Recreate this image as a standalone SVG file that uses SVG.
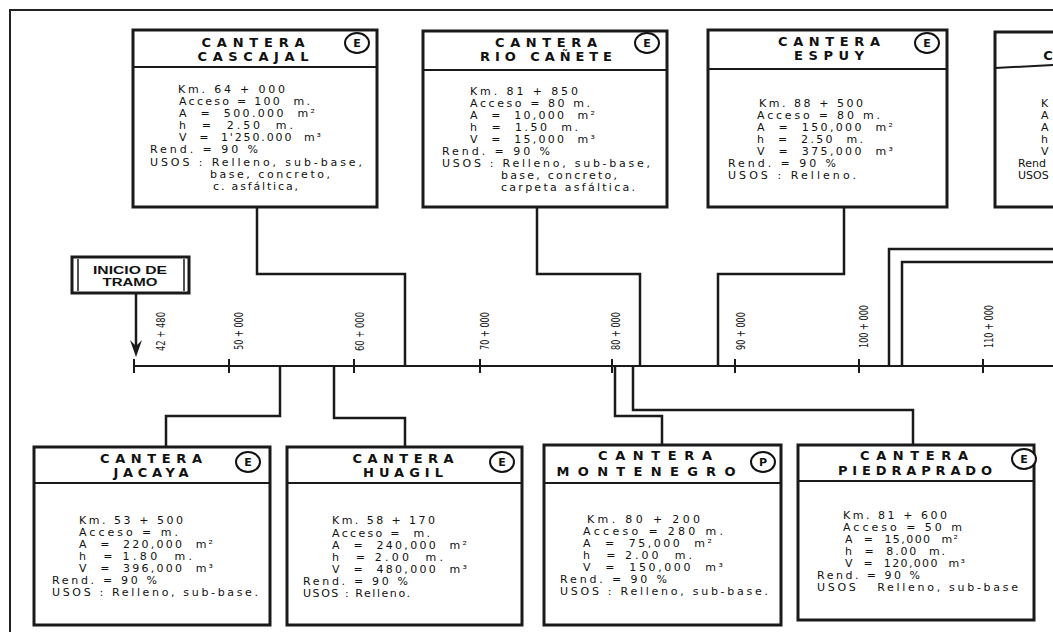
<svg xmlns="http://www.w3.org/2000/svg" width="1053" height="637" viewBox="0 0 1053 637">
<style>
.frame{fill:none;stroke:#222;stroke-width:2}
.box{fill:#fff;stroke:#1a1a1a;stroke-width:3}
.dv{stroke:#1a1a1a;stroke-width:2;fill:none}
.hd{font-family:"DejaVu Sans","Liberation Sans",sans-serif;font-weight:bold;font-size:13px;text-anchor:middle;fill:#111}
.bd{font-family:"DejaVu Sans","Liberation Sans",sans-serif;font-size:11px;fill:#111;white-space:pre}
.ci{fill:#fff;stroke:#111;stroke-width:2}
.cl{font-family:"DejaVu Sans","Liberation Sans",sans-serif;font-weight:bold;font-size:11px;text-anchor:middle;fill:#111}
.conn{fill:none;stroke:#1a1a1a;stroke-width:2.5}
.axis{fill:none;stroke:#1a1a1a;stroke-width:2}
.tick{stroke:#1a1a1a;stroke-width:2}
.tk{font-family:"Liberation Sans Narrow","DejaVu Sans Condensed",sans-serif;font-size:13px;fill:#222}
.ini{font-family:"Liberation Sans",Arial,sans-serif;font-weight:bold;font-size:10.5px;text-anchor:middle;fill:#111}
</style>

<path class="frame" d="M1053,10 H10 V632"/>

<g id="connectors">
  <path class="axis" d="M134,366 H1053"/>
  <g>
    <line class="tick" x1="134" y1="359" x2="134" y2="373"/>
    <line class="tick" x1="229" y1="359" x2="229" y2="373"/>
    <line class="tick" x1="354" y1="359" x2="354" y2="373"/>
    <line class="tick" x1="480" y1="359" x2="480" y2="373"/>
    <line class="tick" x1="612" y1="359" x2="612" y2="373"/>
    <line class="tick" x1="735" y1="359" x2="735" y2="373"/>
    <line class="tick" x1="859" y1="359" x2="859" y2="373"/>
    <line class="tick" x1="983" y1="359" x2="983" y2="373"/>
  </g>
  <path class="conn" d="M257,207 V274 H405 V366"/>
  <path class="conn" d="M537,207 V274 H640 V366"/>
  <path class="conn" d="M844,207 V274 H718 V366"/>
  <path class="conn" d="M1053,249 H889 V366"/>
  <path class="conn" d="M1053,262 H902 V366"/>
  <path class="conn" d="M280,366 V416 H166 V447"/>
  <path class="conn" d="M334,366 V418 H405 V447"/>
  <path class="conn" d="M615,366 V416 H662 V445"/>
  <path class="conn" d="M633,366 V410 H913 V445"/>
  <line class="conn" x1="136" y1="293" x2="136" y2="348"/>
  <path d="M136,357 L130,340 L136,346 L142,340 Z" fill="#1a1a1a"/>
</g>

<g id="km-labels">
  <text class="tk" transform="translate(165,351) rotate(-90)" textLength="39" lengthAdjust="spacingAndGlyphs">42 + 480</text>
  <text class="tk" transform="translate(243,350) rotate(-90)" textLength="38" lengthAdjust="spacingAndGlyphs">50 + 000</text>
  <text class="tk" transform="translate(364,351) rotate(-90)" textLength="39" lengthAdjust="spacingAndGlyphs">60 + 000</text>
  <text class="tk" transform="translate(489,350) rotate(-90)" textLength="38" lengthAdjust="spacingAndGlyphs">70 + 000</text>
  <text class="tk" transform="translate(620,350) rotate(-90)" textLength="38" lengthAdjust="spacingAndGlyphs">80 + 000</text>
  <text class="tk" transform="translate(745,350) rotate(-90)" textLength="38" lengthAdjust="spacingAndGlyphs">90 + 000</text>
  <text class="tk" transform="translate(868,348) rotate(-90)" textLength="43" lengthAdjust="spacingAndGlyphs">100 + 000</text>
  <text class="tk" transform="translate(993,348) rotate(-90)" textLength="43" lengthAdjust="spacingAndGlyphs">110 + 000</text>
</g>

<g id="inicio">
  <rect x="72" y="257" width="117" height="36" fill="#fff" stroke="#1a1a1a" stroke-width="3"/>
  <line x1="78" y1="259" x2="78" y2="291" stroke="#1a1a1a" stroke-width="1.5"/>
  <line x1="184" y1="259" x2="184" y2="291" stroke="#1a1a1a" stroke-width="1.5"/>
  <text class="ini" x="130" y="274" textLength="74" lengthAdjust="spacingAndGlyphs">INICIO DE</text>
  <text class="ini" x="130" y="286" textLength="55" lengthAdjust="spacingAndGlyphs">TRAMO</text>
</g>

<g id="cascajal">
  <rect class="box" x="133" y="30" width="244" height="177"/>
  <line class="dv" x1="133" y1="67" x2="377" y2="67"/>
  <text class="hd" x="253" y="47" textLength="103">CANTERA</text>
  <text class="hd" x="253" y="61" textLength="111">CASCAJAL</text>
  <ellipse class="ci" cx="357" cy="43" rx="12" ry="10"/>
  <text class="cl" x="357" y="47">E</text>
  <text class="bd" x="178" y="93" textLength="107">Km. 64 + 000</text>
  <text class="bd" x="179" y="105" textLength="131">Acceso = 100  m.</text>
  <text class="bd" x="179" y="117" textLength="136">A  =  500.000  m²</text>
  <text class="bd" x="179" y="129" textLength="114">h  =  2.50  m.</text>
  <text class="bd" x="179" y="141" textLength="142">V  =  1'250.000  m³</text>
  <text class="bd" x="150" y="153" textLength="108">Rend. = 90 %</text>
  <text class="bd" x="150" y="166" textLength="212">USOS : Relleno, sub-base,</text>
  <text class="bd" x="210" y="178" textLength="120">base, concreto,</text>
  <text class="bd" x="213" y="190" textLength="85">c. asfáltica,</text>
</g>

<g id="riocanete">
  <rect class="box" x="423" y="31" width="244" height="176"/>
  <line class="dv" x1="423" y1="70" x2="667" y2="70"/>
  <text class="hd" x="546" y="47" textLength="102">CANTERA</text>
  <text class="hd" x="546" y="61" textLength="132">RIO CAÑETE</text>
  <ellipse class="ci" cx="647" cy="43" rx="12" ry="10"/>
  <text class="cl" x="647" y="47">E</text>
  <text class="bd" x="470" y="95" textLength="108">Km. 81 + 850</text>
  <text class="bd" x="470" y="107" textLength="120">Acceso = 80 m.</text>
  <text class="bd" x="470" y="119" textLength="125">A  =  10,000  m²</text>
  <text class="bd" x="470" y="131" textLength="108">h  =  1.50  m.</text>
  <text class="bd" x="470" y="143" textLength="125">V  =  15,000  m³</text>
  <text class="bd" x="442" y="155" textLength="108">Rend. = 90 %</text>
  <text class="bd" x="442" y="167" textLength="208">USOS : Relleno, sub-base,</text>
  <text class="bd" x="501" y="179" textLength="116">base, concreto,</text>
  <text class="bd" x="501" y="191" textLength="134">carpeta asfáltica.</text>
</g>

<g id="espuy">
  <rect class="box" x="708" y="30" width="239" height="177"/>
  <line class="dv" x1="708" y1="69" x2="947" y2="69"/>
  <text class="hd" x="829" y="46" textLength="102">CANTERA</text>
  <text class="hd" x="829" y="60" textLength="70">ESPUY</text>
  <ellipse class="ci" cx="927" cy="43" rx="12" ry="10"/>
  <text class="cl" x="927" y="47">E</text>
  <text class="bd" x="759" y="107" textLength="104">Km. 88 + 500</text>
  <text class="bd" x="757" y="119" textLength="123">Acceso = 80 m.</text>
  <text class="bd" x="757" y="131" textLength="136">A  =  150,000  m²</text>
  <text class="bd" x="757" y="143" textLength="106">h  =  2.50  m.</text>
  <text class="bd" x="757" y="155" textLength="136">V  =  375,000  m³</text>
  <text class="bd" x="728" y="167" textLength="108">Rend. = 90 %</text>
  <text class="bd" x="728" y="179" textLength="128">USOS : Relleno.</text>
</g>

<g id="cantera-4">
  <path class="box" d="M1056,32 H995 V207 H1056"/>
  <path class="dv" d="M995,68 L1053,65"/>
  <text class="hd" x="1048" y="60">C</text>
  <text class="bd" x="1041" y="107">K</text>
  <text class="bd" x="1041" y="119">A</text>
  <text class="bd" x="1041" y="131">A</text>
  <text class="bd" x="1041" y="143">h</text>
  <text class="bd" x="1041" y="155">V</text>
  <text class="bd" x="1018" y="167">Rend</text>
  <text class="bd" x="1018" y="179">USOS</text>
</g>

<g id="jacaya">
  <rect class="box" x="34" y="447" width="236" height="178"/>
  <line class="dv" x1="34" y1="483" x2="270" y2="483"/>
  <text class="hd" x="151" y="463" textLength="102">CANTERA</text>
  <text class="hd" x="151" y="477" textLength="75">JACAYA</text>
  <ellipse class="ci" cx="248" cy="462" rx="12" ry="10"/>
  <text class="cl" x="248" y="466">E</text>
  <text class="bd" x="79" y="524" textLength="104">Km. 53 + 500</text>
  <text class="bd" x="79" y="536" textLength="99">Acceso = m.</text>
  <text class="bd" x="79" y="548" textLength="134">A  =  220,000  m²</text>
  <text class="bd" x="79" y="560" textLength="113">h  = 1.80  m.</text>
  <text class="bd" x="79" y="572" textLength="134">V  =  396,000  m³</text>
  <text class="bd" x="52" y="584" textLength="105">Rend. = 90 %</text>
  <text class="bd" x="52" y="596" textLength="206">USOS : Relleno, sub-base.</text>
</g>

<g id="huagil">
  <rect class="box" x="287" y="447" width="235" height="178"/>
  <line class="dv" x1="287" y1="483" x2="522" y2="483"/>
  <text class="hd" x="403" y="463" textLength="101">CANTERA</text>
  <text class="hd" x="403" y="477" textLength="80">HUAGIL</text>
  <ellipse class="ci" cx="502" cy="462" rx="12" ry="10"/>
  <text class="cl" x="502" y="466">E</text>
  <text class="bd" x="332" y="524" textLength="103">Km. 58 + 170</text>
  <text class="bd" x="332" y="537" textLength="98">Acceso =  m.</text>
  <text class="bd" x="332" y="549" textLength="135">A  =  240,000  m²</text>
  <text class="bd" x="332" y="561" textLength="111">h  = 2.00  m.</text>
  <text class="bd" x="332" y="573" textLength="135">V  =  480,000  m³</text>
  <text class="bd" x="303" y="585" textLength="105">Rend. = 90 %</text>
  <text class="bd" x="303" y="597" textLength="107">USOS : Relleno.</text>
</g>

<g id="montenegro">
  <rect class="box" x="544" y="445" width="237" height="180"/>
  <line class="dv" x1="544" y1="483" x2="781" y2="483"/>
  <text class="hd" x="655" y="460" textLength="114">CANTERA</text>
  <text class="hd" x="646" y="476" textLength="179">MONTENEGRO</text>
  <ellipse class="ci" cx="763" cy="462" rx="12" ry="10"/>
  <text class="cl" x="763" y="466">P</text>
  <text class="bd" x="587" y="523" textLength="113">Km. 80 + 200</text>
  <text class="bd" x="583" y="535" textLength="140">Acceso = 280 m.</text>
  <text class="bd" x="583" y="547" textLength="129">A  =  75,000  m²</text>
  <text class="bd" x="583" y="559" textLength="109">h  = 2.00  m.</text>
  <text class="bd" x="583" y="571" textLength="140">V  =  150,000  m³</text>
  <text class="bd" x="560" y="583" textLength="107">Rend. = 90 %</text>
  <text class="bd" x="560" y="595" textLength="208">USOS : Relleno, sub-base.</text>
</g>

<g id="piedraprado">
  <rect class="box" x="798" y="445" width="236" height="175"/>
  <line class="dv" x1="798" y1="481" x2="1034" y2="481"/>
  <text class="hd" x="914" y="460" textLength="108">CANTERA</text>
  <text class="hd" x="915" y="475" textLength="154">PIEDRAPRADO</text>
  <ellipse class="ci" cx="1024" cy="459" rx="12" ry="10"/>
  <text class="cl" x="1024" y="463">E</text>
  <text class="bd" x="843" y="519" textLength="104">Km. 81 + 600</text>
  <text class="bd" x="843" y="531" textLength="119">Acceso = 50 m</text>
  <text class="bd" x="845" y="543" textLength="113">A  =  15,000  m²</text>
  <text class="bd" x="845" y="555" textLength="100">h  =  8.00  m.</text>
  <text class="bd" x="845" y="567" textLength="120">V  =  120,000  m³</text>
  <text class="bd" x="817" y="579" textLength="103">Rend. = 90 %</text>
  <text class="bd" x="817" y="591" textLength="201">USOS   Relleno, sub-base</text>
</g>
</svg>
